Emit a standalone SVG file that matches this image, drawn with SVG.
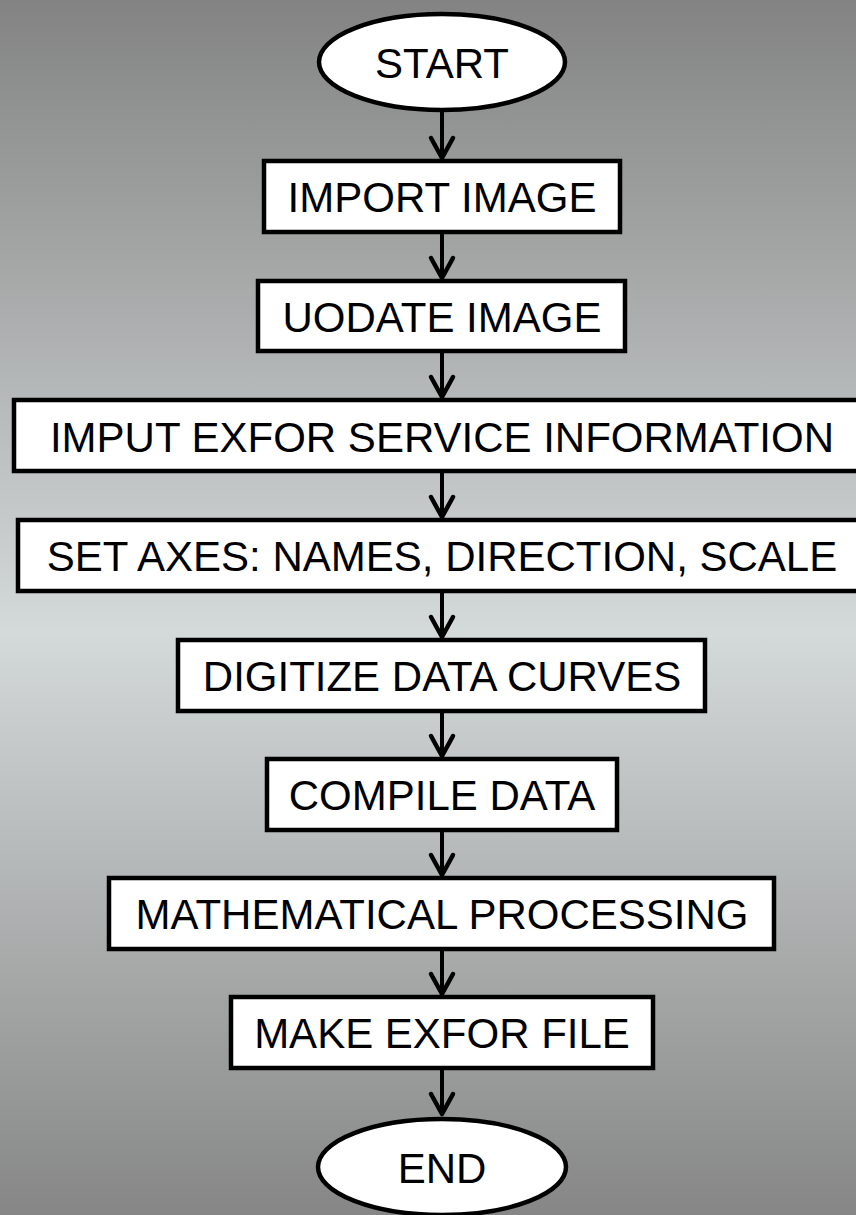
<svg xmlns="http://www.w3.org/2000/svg" width="856" height="1215" viewBox="0 0 856 1215">
<defs>
<linearGradient id="bg" x1="0" y1="0" x2="0" y2="1">
<stop offset="0" stop-color="#838383"/>
<stop offset="0.52" stop-color="#d4d9d9"/>
<stop offset="1" stop-color="#868686"/>
</linearGradient>
<marker id="arr" markerUnits="userSpaceOnUse" markerWidth="40" markerHeight="40" viewBox="-30 -20 40 40" refX="0" refY="0" orient="auto">
<path d="M-20,-11 L0,0 L-20,11" fill="none" stroke="#000" stroke-width="4.5" stroke-linejoin="round" stroke-linecap="round"/>
</marker>
<style>
.n{fill:#fff;stroke:#000;stroke-width:4.5}
.t{font-family:"Liberation Sans",Arial,sans-serif;font-size:42px;fill:#000;text-anchor:middle}
.c{stroke:#000;stroke-width:4;fill:none;marker-end:url(#arr)}
</style>
</defs>
<rect x="0" y="0" width="856" height="1215" fill="url(#bg)"/>
<g id="connectors">
<line class="c" x1="442" y1="110" x2="442" y2="158"/>
<line class="c" x1="442" y1="232" x2="442" y2="278"/>
<line class="c" x1="442" y1="351" x2="442" y2="397"/>
<line class="c" x1="442" y1="471" x2="442" y2="517"/>
<line class="c" x1="442" y1="591" x2="442" y2="637"/>
<line class="c" x1="442" y1="711" x2="442" y2="756"/>
<line class="c" x1="442" y1="830" x2="442" y2="875"/>
<line class="c" x1="442" y1="949" x2="442" y2="994"/>
<line class="c" x1="442" y1="1068" x2="442" y2="1114"/>
</g>
<g id="start">
<ellipse class="n" cx="442" cy="62" rx="123" ry="48"/>
<text class="t" x="442" y="78">START</text>
</g>
<g id="import-image">
<rect class="n" x="264" y="161" width="356" height="71"/>
<text class="t" x="442" y="212">IMPORT IMAGE</text>
</g>
<g id="uodate-image">
<rect class="n" x="258" y="281" width="367" height="70"/>
<text class="t" x="442" y="331.5">UODATE IMAGE</text>
</g>
<g id="imput-exfor">
<rect class="n" x="14" y="400" width="856" height="71"/>
<text class="t" x="442" y="452">IMPUT EXFOR SERVICE INFORMATION</text>
</g>
<g id="set-axes">
<rect class="n" x="18" y="520" width="848" height="71"/>
<text class="t" x="442" y="571">SET AXES: NAMES, DIRECTION, SCALE</text>
</g>
<g id="digitize">
<rect class="n" x="178" y="640" width="527" height="71"/>
<text class="t" x="442" y="691">DIGITIZE DATA CURVES</text>
</g>
<g id="compile">
<rect class="n" x="267" y="759" width="350" height="71"/>
<text class="t" x="442" y="810">COMPILE DATA</text>
</g>
<g id="math">
<rect class="n" x="109" y="878" width="665" height="71"/>
<text class="t" x="442" y="929">MATHEMATICAL PROCESSING</text>
</g>
<g id="make-exfor">
<rect class="n" x="231" y="997" width="422" height="71"/>
<text class="t" x="442" y="1048">MAKE EXFOR FILE</text>
</g>
<g id="end">
<ellipse class="n" cx="442" cy="1167" rx="124" ry="48"/>
<text class="t" x="442" y="1182.5">END</text>
</g>
</svg>
